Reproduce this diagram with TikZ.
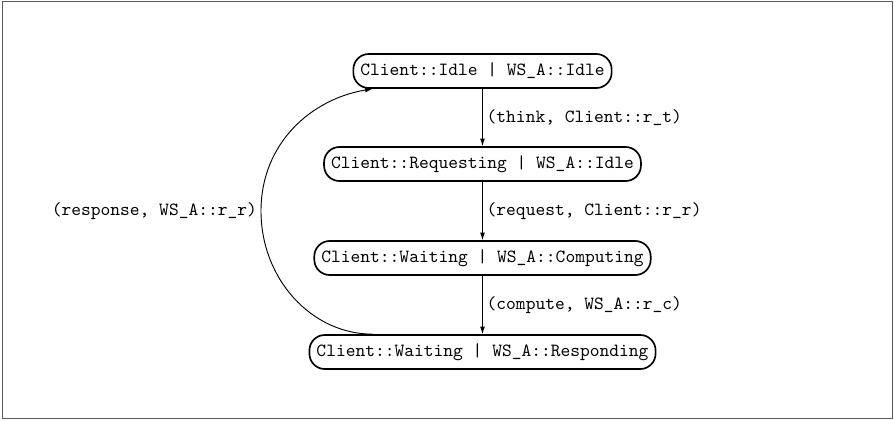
\documentclass[tikz,border=0pt]{standalone}
\usetikzlibrary{arrows.meta}
\begin{document}
\begin{tikzpicture}[x=0.5376pt,y=-0.5376pt,
  state/.style={draw, line width=0.9pt, rounded corners=8.3pt, minimum height=18.3pt,
    inner xsep=3.8pt, inner ysep=2pt, font=\ttfamily},
  edge/.style={-{Latex[length=4pt,width=2.6pt]}, line width=0.5pt},
  lbl/.style={font=\ttfamily, inner sep=2pt},
  frame/.style={draw=black!65, line width=0.8pt}]
\useasboundingbox (0,0) rectangle (894,420);
\draw[frame] (2.5,1.5) rectangle (892.5,418.5);
\node[state] (n1) at (482.5,71) {Client::Idle | WS\_A::Idle};
\node[state] (n2) at (482.5,164) {Client::Requesting | WS\_A::Idle};
\node[state] (n3) at (482.5,258) {Client::Waiting | WS\_A::Computing};
\node[state] (n4) at (482.5,352) {Client::Waiting | WS\_A::Responding};
\draw[edge] (n1) -- node[lbl, right] (l1) {(think, Client::r\_t)} (n2);
\draw[edge] (n2) -- node[lbl, right] (l2) {(request, Client::r\_r)} (n3);
\draw[edge] (n3) -- node[lbl, right] (l3) {(compute, WS\_A::r\_c)} (n4);
\coordinate (m) at (261,211);
\draw[edge] ([xshift=-59.1pt]n4.north) .. controls +(-61,0) and +(0,68) .. (m)
  .. controls +(0,-68) and +(-61,10) .. ([xshift=-59.1pt]n1.south);
\node[lbl, left] (l4) at (m) {(response, WS\_A::r\_r)};
\end{tikzpicture}
\end{document}
